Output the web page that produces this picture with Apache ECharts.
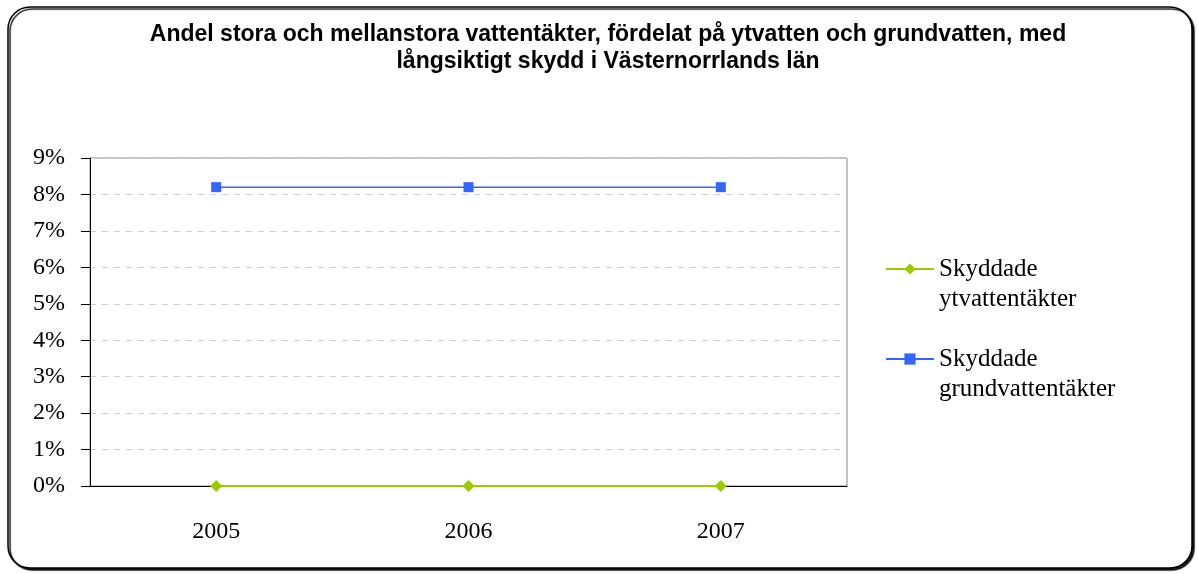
<!DOCTYPE html>
<html>
<head>
<meta charset="utf-8">
<title>Vattentäkter</title>
<script src="https://cdn.jsdelivr.net/npm/echarts@6/dist/echarts.min.js"></script>
</head>
<body style="margin:0">
<div id="main" style="width:1198px;height:574px;"></div>
<script type="text/javascript">
// data
var years = ['2005', '2006', '2007'];
var ytvatten = [0, 0, 0];
var grundvatten = [8.2, 8.2, 8.2];
var yTicks = [0, 9, 1]; // min, max, step (%)

var myChart = echarts.init(document.getElementById('main'));

var serif = '"Liberation Serif", "Times New Roman", serif';

var option = {
	backgroundColor: '#fff',
	animation: false,
	graphic: [{
		type: 'rect',
		shape: { x: 8, y: 7, width: 1184, height: 561, r: 22 },
		style: { fill: '#fff', stroke: '#000', lineWidth: 1.5, shadowColor: 'rgba(0,0,0,0.9)', shadowOffsetX: 2, shadowOffsetY: 2, shadowBlur: 1 },
		z: -10
	}],
	title: {
		text: 'Andel stora och mellanstora vattentäkter, fördelat på ytvatten och grundvatten, med\nlångsiktigt skydd i Västernorrlands län',
		left: 603,
		top: 16,
		textAlign: 'center',
		textStyle: { fontFamily: '"Liberation Sans", Arial, sans-serif', fontSize: 23, fontWeight: 'bold', color: '#000', lineHeight: 27 }
	},
	grid: {
		left: 90, right: 351, top: 158, bottom: 88,
		show: true, borderColor: '#888', borderWidth: 1
	},
	legend: {
		orient: 'vertical',
		left: 885,
		top: 224,
		padding: 0,
		itemWidth: 48,
		itemHeight: 14,
		itemGap: 0,
		// blank first line so the icon sits beside the first text line
		formatter: function (name) { return ' \n' + name; },
		textStyle: { fontFamily: serif, fontSize: 25, color: '#000', lineHeight: 30 },
		data: ['Skyddade\nytvattentäkter', 'Skyddade\ngrundvattentäkter']
	},
	xAxis: {
		type: 'category',
		data: years,
		boundaryGap: true,
		axisLine: { lineStyle: { color: '#000', width: 1 } },
		axisTick: { length: 8, lineStyle: { color: '#000' } },
		axisLabel: { fontFamily: serif, fontSize: 24, color: '#000', margin: 34 }
	},
	yAxis: {
		type: 'value',
		min: yTicks[0], max: yTicks[1], interval: yTicks[2],
		axisLine: { show: true, lineStyle: { color: '#000', width: 1 } },
		axisTick: { show: true, length: 9, lineStyle: { color: '#000' } },
		axisLabel: { fontFamily: serif, fontSize: 24, color: '#000', margin: 25, formatter: '{value}%' },
		splitLine: { lineStyle: { color: '#cfcfcf', type: [6, 6] } }
	},
	series: [{
		name: 'Skyddade\nytvattentäkter',
		type: 'line',
		data: ytvatten,
		color: '#99cc00',
		symbol: 'diamond',
		symbolSize: 12,
		lineStyle: { width: 2 },
		z: 5
	}, {
		name: 'Skyddade\ngrundvattentäkter',
		type: 'line',
		data: grundvatten,
		color: '#3366ff',
		symbol: 'rect',
		symbolSize: 10,
		lineStyle: { width: 1.5 }
	}]
};

myChart.setOption(option);
</script>
</body>
</html>
